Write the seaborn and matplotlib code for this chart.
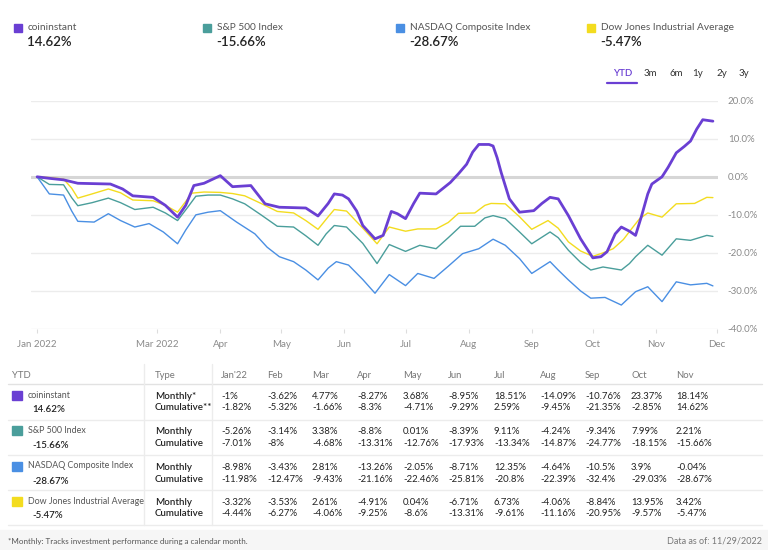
import matplotlib.pyplot as plt
from matplotlib.patches import Rectangle
from matplotlib.lines import Line2D
import pandas as pd
import seaborn as sns

sns.set_style('white')
plt.rcParams['font.family'] = ['Lato', 'DejaVu Sans']

W, H = 768, 550
START = pd.Timestamp('2022-01-01')

names = ['coininstant', 'S&P 500 Index', 'NASDAQ Composite Index',
         'Dow Jones Industrial Average']
colors = ['#6a3fd3', '#4a9e9b', '#4a8fe3', '#f3dc1f']
ytd = ['14.62%', '-15.66%', '-28.67%', '-5.47%']

# chart readings: days since Jan 1 2022, YTD return in %
coin_days = [0, 6, 13, 20, 28, 36, 42, 47, 57, 63, 69, 73, 77, 82, 86, 90, 96,
             105, 112, 119, 132, 138, 143, 146, 150, 153, 157, 160, 166, 170,
             174, 177, 181, 185, 188, 196, 203, 207, 211, 214, 217, 222, 224,
             226, 228, 232, 237, 244, 248, 252, 256, 261, 267, 273, 277, 280,
             284, 287, 291, 294, 297, 300, 302, 307, 310, 314, 318, 321, 324,
             327, 332]
coin_vals = [0, -0.4, -0.8, -1.7, -1.8, -1.9, -3.2, -5.0, -5.4, -7.5, -10.6,
             -7.5, -2.3, -1.7, -0.7, 0.3, -2.6, -2.3, -7.1, -8.0, -8.2, -10.3,
             -7.0, -4.5, -4.8, -5.8, -9.0, -12.8, -16.3, -15.4, -9.1, -9.7,
             -11.0, -7.0, -4.3, -4.5, -1.5, 0.8, 3.3, 6.5, 8.5, 8.5, 8.1, 5.0,
             1.1, -5.8, -9.3, -8.9, -7.0, -5.4, -5.8, -10.2, -16.3, -21.3,
             -21.0, -19.7, -15.0, -13.2, -14.3, -15.4, -10.2, -4.5, -1.9, 0.0,
             2.5, 6.3, 8.0, 9.4, 12.5, 15.0, 14.62]

sp_days = [0, 6, 13, 17, 20, 27, 35, 41, 48, 57, 63, 69, 74, 78, 84, 90, 96,
           102, 110, 118, 126, 132, 138, 142, 146, 152, 160, 167, 173, 181,
           188, 196, 202, 208, 215, 220, 224, 230, 237, 243, 252, 256, 261,
           267, 272, 278, 287, 291, 294, 300, 307, 314, 321, 329, 332]
sp_vals = [0, -2.0, -2.1, -5.5, -7.6, -6.8, -5.6, -6.8, -8.6, -8.0, -9.5,
           -11.5, -8.0, -5.1, -4.8, -4.8, -5.8, -7.1, -10.0, -13.0, -13.2,
           -15.5, -18.0, -15.0, -12.8, -13.2, -17.5, -22.8, -17.8, -19.6,
           -18.0, -18.9, -16.0, -13.0, -13.0, -10.8, -10.2, -11.0, -14.5,
           -17.6, -14.5, -16.0, -19.3, -22.5, -24.5, -23.7, -24.5, -22.8,
           -21.0, -18.0, -20.6, -16.3, -16.7, -15.4, -15.66]

nasdaq_days = [0, 6, 13, 17, 20, 28, 35, 41, 48, 55, 62, 69, 73, 78, 84, 90,
               98, 107, 113, 119, 126, 132, 138, 143, 147, 153, 160, 166, 173,
               181, 187, 195, 202, 209, 217, 224, 230, 237, 243, 252, 256,
               261, 267, 272, 279, 287, 294, 300, 307, 314, 321, 329, 332]
nasdaq_vals = [0, -4.5, -4.8, -9.0, -11.7, -11.9, -9.7, -11.5, -13.2, -12.3,
               -14.5, -17.6, -14.0, -10.0, -9.3, -8.9, -11.9, -15.0, -18.5,
               -21.0, -22.3, -24.5, -27.1, -24.0, -22.3, -23.2, -27.0, -30.6,
               -25.7, -28.6, -25.4, -26.7, -23.5, -20.2, -18.9, -16.4, -18.0,
               -21.5, -25.4, -22.3, -24.5, -27.1, -30.0, -31.9, -31.7, -33.7,
               -30.2, -28.9, -32.8, -27.6, -28.4, -28.0, -28.67]

dow_days = [0, 6, 13, 17, 20, 27, 35, 41, 47, 57, 63, 69, 73, 76, 82, 90, 96,
            102, 110, 118, 126, 132, 138, 143, 146, 152, 160, 167, 173, 181,
            187, 196, 202, 207, 215, 220, 223, 230, 237, 243, 251, 256, 261,
            267, 273, 278, 283, 288, 292, 296, 300, 307, 314, 323, 329, 332]
dow_vals = [0, -0.2, -0.6, -3.0, -5.6, -4.5, -3.2, -4.2, -6.1, -6.3, -7.5,
            -9.3, -6.5, -4.3, -4.0, -4.1, -4.4, -5.0, -7.0, -9.1, -9.5, -11.5,
            -13.8, -10.5, -8.6, -9.0, -13.5, -17.6, -13.2, -14.3, -13.7, -13.7,
            -12.0, -9.6, -9.5, -7.5, -7.0, -7.1, -10.5, -13.8, -11.5, -13.5,
            -17.1, -19.5, -20.9, -20.0, -18.9, -16.5, -13.7, -11.0, -9.5,
            -10.6, -7.1, -7.0, -5.4, -5.47]

# table
months = ["Jan'22", 'Feb', 'Mar', 'Apr', 'May', 'Jun', 'Jul', 'Aug', 'Sep',
          'Oct', 'Nov']
coin_monthly = [-1, -3.62, 4.77, -8.27, 3.68, -8.95, 18.51, -14.09, -10.76,
                23.37, 18.14]
coin_cum = [-1.82, -5.32, -1.66, -8.3, -4.71, -9.29, 2.59, -9.45, -21.35,
            -2.85, 14.62]
sp_monthly = [-5.26, -3.14, 3.38, -8.8, 0.01, -8.39, 9.11, -4.24, -9.34, 7.99,
              2.21]
sp_cum = [-7.01, -8, -4.68, -13.31, -12.76, -17.93, -13.34, -14.87, -24.77,
          -18.15, -15.66]
nasdaq_monthly = [-8.98, -3.43, 2.81, -13.26, -2.05, -8.71, 12.35, -4.64,
                  -10.5, 3.9, -0.04]
nasdaq_cum = [-11.98, -12.47, -9.43, -21.16, -22.46, -25.81, -20.8, -22.39,
              -32.4, -29.03, -28.67]
dow_monthly = [-3.32, -3.53, 2.61, -4.91, 0.04, -6.71, 6.73, -4.06, -8.84,
               13.95, 3.42]
dow_cum = [-4.44, -6.27, -4.06, -9.25, -8.6, -13.31, -9.61, -11.16, -20.95,
           -9.57, -5.47]

tick_months = ['2022-01-01', '2022-03-01', '2022-04-01', '2022-05-01',
               '2022-06-01', '2022-07-01', '2022-08-01', '2022-09-01',
               '2022-10-01', '2022-11-01', '2022-12-01']
tick_labels = ['Jan 2022', 'Mar 2022', 'Apr', 'May', 'Jun', 'Jul', 'Aug',
               'Sep', 'Oct', 'Nov', 'Dec']
ranges = ['YTD', '3m', '6m', '1y', '2y', '3y']


def px(x, y):
    return x / W, 1 - y / H


fig = plt.figure(figsize=(W / 100, H / 100), dpi=100)
ax = fig.add_axes([31 / W, 1 - 329 / H, (718 - 31) / W, (329 - 100.7) / H])

lines = [(coin_days, coin_vals), (sp_days, sp_vals),
         (nasdaq_days, nasdaq_vals), (dow_days, dow_vals)]
frames = []
for name, (d, v) in zip(names, lines):
    frames.append(pd.DataFrame({'date': START + pd.to_timedelta(d, unit='D'),
                                'value': v, 'series': name}))
df = pd.concat(frames)

for y in range(-40, 30, 10):
    ax.axhline(y, color='#d6d6d6' if y == 0 else '#ececec',
               lw=2.2 if y == 0 else 1, zorder=0)

for i in [1, 2, 3, 0]:
    sub = df[df.series == names[i]]
    sns.lineplot(data=sub, x='date', y='value', color=colors[i],
                 lw=2 if i == 0 else 1, ax=ax, zorder=3 if i == 0 else 2,
                 legend=False, solid_joinstyle='round')

ax.set_xlim(pd.Timestamp('2021-12-29'), pd.Timestamp('2022-12-01 12:00'))
ax.set_ylim(-40, 20)
ax.set_xlabel('')
ax.set_ylabel('')
ax.set_xticks(pd.to_datetime(tick_months))
ax.set_xticklabels(tick_labels)
ax.set_yticks(range(-40, 30, 10))
ax.set_yticklabels([f'{v:.1f}%' for v in range(-40, 30, 10)])
ax.yaxis.tick_right()
ax.tick_params(axis='y', length=0, pad=7, labelsize=7, labelcolor='#8a8a8a')
ax.tick_params(axis='x', length=3, color='#dddddd', pad=5, labelsize=7,
               labelcolor='#8a8a8a', bottom=True)
for s in ax.spines.values():
    s.set_visible(False)

# top legend
leg_x = [14, 203, 396, 587]
for i in range(4):
    fig.patches.append(Rectangle(px(leg_x[i], 32), 8 / W, 8 / H,
                                 transform=fig.transFigure, color=colors[i]))
    fig.text(*px(leg_x[i] + 14, 28), names[i], fontsize=7.3, color='#555555',
             va='center')
    fig.text(*px(leg_x[i] + 13, 42.5), ytd[i], fontsize=9.5, color='#222222',
             va='center', fontweight='semibold')

range_x = [623, 650, 676, 698, 722, 744]
for i, r in enumerate(ranges):
    fig.text(*px(range_x[i], 74), r, fontsize=7, ha='center', va='center',
             color=colors[0] if i == 0 else '#333333',
             fontweight='semibold' if i == 0 else 'normal')
fig.lines.append(Line2D([607 / W, 637 / W], [1 - 82.5 / H, 1 - 82.5 / H],
                        transform=fig.transFigure, color=colors[0], lw=1.6))

# table
col_x = [221, 267, 312, 357, 403, 448, 494, 540, 585, 631, 676]
fig.text(*px(12, 375), 'YTD', fontsize=6.8, color='#777777', va='center')
fig.text(*px(155, 375), 'Type', fontsize=6.8, color='#777777', va='center')
for x, m in zip(col_x, months):
    fig.text(*px(x, 375), m, fontsize=6.8, color='#777777', va='center')

for y, c in [(384, '#e2e2e2'), (419.5, '#ececec'), (455, '#ececec'),
             (490, '#ececec'), (525, '#ececec')]:
    fig.lines.append(Line2D([8 / W, 762 / W], [1 - y / H, 1 - y / H],
                            transform=fig.transFigure, color=c, lw=1))
for x in [144, 212]:
    fig.lines.append(Line2D([x / W, x / W], [1 - 364 / H, 1 - 525 / H],
                            transform=fig.transFigure, color='#ececec', lw=1))

monthly = [coin_monthly, sp_monthly, nasdaq_monthly, dow_monthly]
cumulative = [coin_cum, sp_cum, nasdaq_cum, dow_cum]
row_top = [384, 419.5, 455, 490]
for i in range(4):
    t = row_top[i]
    fig.patches.append(Rectangle(px(12, t + 15.5), 10 / W, 9 / H,
                                 transform=fig.transFigure, color=colors[i]))
    fig.text(*px(28, t + 11), names[i], fontsize=6.4, color='#555555',
             va='center')
    fig.text(*px(32, t + 26), ytd[i], fontsize=7, color='#222222',
             va='center', fontweight='semibold')
    m_lab, c_lab = ('Monthly*', 'Cumulative**') if i == 0 else \
        ('Monthly', 'Cumulative')
    fig.text(*px(155, t + 12.5), m_lab, fontsize=7, color='#222222',
             va='center', fontweight='semibold')
    fig.text(*px(155, t + 24), c_lab, fontsize=7, color='#222222',
             va='center', fontweight='semibold')
    for x, mv, cv in zip(col_x, monthly[i], cumulative[i]):
        fig.text(*px(x, t + 12.5), f'{mv:g}%', fontsize=6.9,
                 color='#222222', va='center')
        fig.text(*px(x, t + 24), f'{cv:g}%', fontsize=6.9,
                 color='#222222', va='center')

# footer
fig.patches.append(Rectangle((0, 0), 1, 20 / H, transform=fig.transFigure,
                             color='#f6f6f6', zorder=0))
fig.text(*px(8, 541.5), '*Monthly: Tracks investment performance during a '
         'calendar month.', fontsize=5.8, color='#555555', va='center')
fig.text(*px(762, 541.5), 'Data as of: 11/29/2022', fontsize=6.5,
         color='#777777', va='center', ha='right')

fig.savefig('out.png', dpi=100)
